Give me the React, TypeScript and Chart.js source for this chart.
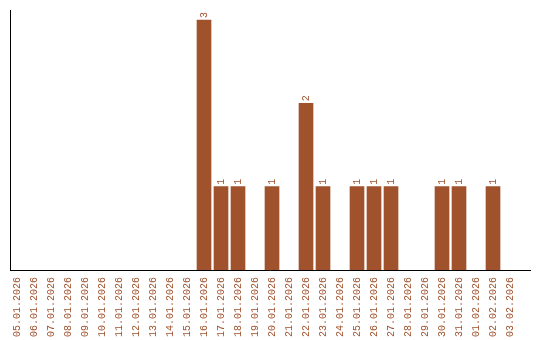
import React, { useEffect, useRef } from "react";
import { Chart, registerables } from "chart.js";

Chart.register(...registerables);

const dates = [
  "05.01.2026", "06.01.2026", "07.01.2026", "08.01.2026", "09.01.2026",
  "10.01.2026", "11.01.2026", "12.01.2026", "13.01.2026", "14.01.2026",
  "15.01.2026", "16.01.2026", "17.01.2026", "18.01.2026", "19.01.2026",
  "20.01.2026", "21.01.2026", "22.01.2026", "23.01.2026", "24.01.2026",
  "25.01.2026", "26.01.2026", "27.01.2026", "28.01.2026", "29.01.2026",
  "30.01.2026", "31.01.2026", "01.02.2026", "02.02.2026", "03.02.2026",
];
const counts = [
  0, 0, 0, 0, 0,
  0, 0, 0, 0, 0,
  0, 3, 1, 1, 0,
  1, 0, 2, 1, 0,
  1, 1, 1, 0, 0,
  1, 1, 0, 1, 0,
];

const BAR = "#A0522D";
const FONT = "'Liberation Mono', monospace";

const valueLabels = {
  id: "valueLabels",
  afterDatasetsDraw(chart: any) {
    const ctx = chart.ctx;
    const meta = chart.getDatasetMeta(0);
    ctx.save();
    ctx.fillStyle = BAR;
    ctx.font = `10px ${FONT}`;
    ctx.textAlign = "left";
    ctx.textBaseline = "middle";
    meta.data.forEach((el: any, i: number) => {
      const v = counts[i];
      if (!v) return;
      ctx.save();
      ctx.translate(el.x, el.y - 2);
      ctx.rotate(-Math.PI / 2);
      ctx.fillText(String(v), 0, 0);
      ctx.restore();
    });
    ctx.restore();
  },
};

export default function App() {
  const ref = useRef<HTMLCanvasElement>(null);
  useEffect(() => {
    document.body.style.margin = "0";
    const chart = new Chart(ref.current!, {
      type: "bar",
      data: {
        datasets: [
          {
            data: counts.map((c, i) => ({ x: i, y: c > 0 ? c : null })),
            backgroundColor: BAR,
            borderWidth: 0,
            barThickness: 14,
          },
        ],
      },
      options: {
        animation: false,
        responsive: false,
        devicePixelRatio: 1,
        layout: { padding: { top: 10, right: 10, left: 0, bottom: 0 } },
        plugins: { legend: { display: false }, tooltip: { enabled: false } },
        scales: {
          x: {
            type: "linear",
            offset: false,
            min: -0.412,
            max: 30.176,
            afterFit(scale: any) {
              scale.height = 70;
              scale.paddingLeft = 0;
              scale.paddingRight = 0;
            },
            afterBuildTicks(scale: any) {
              scale.ticks = dates.map((_, i) => ({ value: i }));
            },
            grid: { display: false, drawTicks: false, offset: false },
            border: { display: true, color: "#000", width: 1 },
            ticks: {
              autoSkip: false,
              maxRotation: 90,
              minRotation: 90,
              padding: 7,
              color: BAR,
              font: { family: FONT, size: 10 },
              callback: (v: any) => dates[v] ?? "",
            },
          },
          y: {
            min: 0,
            max: 3.12,
            afterFit(scale: any) {
              scale.width = 10;
              scale.paddingTop = 0;
              scale.paddingBottom = 0;
            },
            grid: { display: false, drawTicks: false },
            border: { display: true, color: "#000", width: 1 },
            ticks: { display: false },
          },
        },
      },
      plugins: [valueLabels],
    });
    return () => chart.destroy();
  }, []);
  return (
    <div style={{ width: 540, height: 340 }}>
      <canvas ref={ref} width={540} height={340} />
    </div>
  );
}
